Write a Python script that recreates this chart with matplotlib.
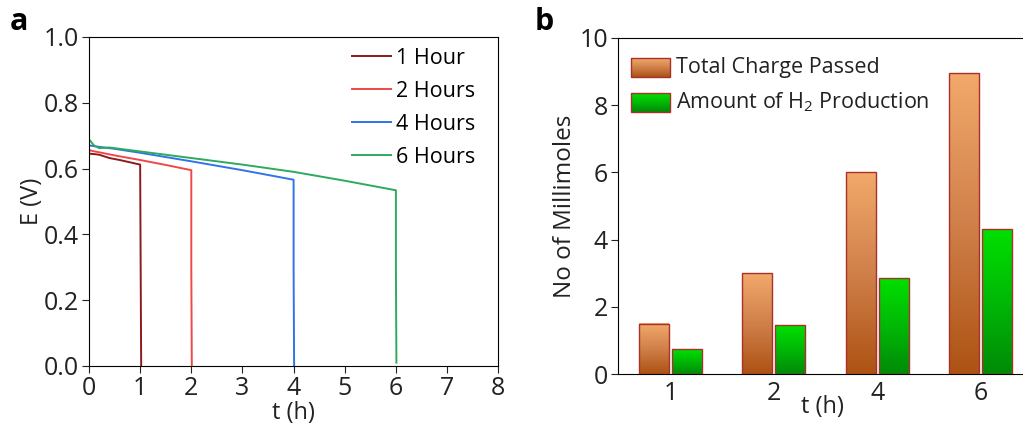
import numpy as np
import matplotlib
matplotlib.use('Agg')
import matplotlib.pyplot as plt
from matplotlib.colors import LinearSegmentedColormap

plt.rcParams['font.family'] = ['Open Sans', 'DejaVu Sans']
plt.rcParams['mathtext.default'] = 'regular'

# panel a: discharge curves
t_1h = [0, 0.01, 0.1, 0.2, 0.4, 0.6, 0.8, 1.0, 1.01, 1.02]
e_1h = [0.65, 0.645, 0.644, 0.642, 0.632, 0.626, 0.619, 0.612, 0.3, 0.0]
t_2h = [0, 0.02, 0.5, 1.0, 1.5, 2.0, 2.0, 2.01]
e_2h = [0.66, 0.655, 0.64, 0.626, 0.611, 0.595, 0.3, 0.0]
t_4h = [0, 0.02, 0.1, 0.5, 1.0, 2.0, 3.0, 4.0, 4.0, 4.01]
e_4h = [0.672, 0.67, 0.668, 0.66, 0.648, 0.622, 0.595, 0.566, 0.3, 0.0]
t_6h = [0, 0.0, 0.02, 0.1, 0.2, 0.4, 1.0, 2.0, 3.0, 4.0, 5.0, 6.0, 6.0, 6.01]
e_6h = [0.77, 0.69, 0.685, 0.67, 0.662, 0.664, 0.652, 0.632, 0.612, 0.59, 0.563, 0.534, 0.3, 0.01]
curve_labels = ['1 Hour', '2 Hours', '4 Hours', '6 Hours']
curve_colors = ['#8B1A1A', '#F04848', '#2F74E8', '#2EAA5E']

# panel b: millimoles
groups = ['1', '2', '4', '6']
charge = [1.5, 3.0, 6.0, 8.95]
h2 = [0.73, 1.45, 2.85, 4.3]

fig = plt.figure(figsize=(10.23, 4.25), dpi=100)
ax1 = fig.add_axes([0.087, 0.139, 0.400, 0.774])
ax2 = fig.add_axes([0.604, 0.120, 0.400, 0.791])

for t, e, lab, c in zip([t_1h, t_2h, t_4h, t_6h], [e_1h, e_2h, e_4h, e_6h], curve_labels, curve_colors):
    ax1.plot(t, e, color=c, lw=1.4, label=lab)
ax1.set_xlim(0, 8)
ax1.set_ylim(0, 1.0)
ax1.set_xticks(range(0, 9))
ax1.set_yticks([0, 0.2, 0.4, 0.6, 0.8, 1.0])
ax1.set_yticklabels(['0.0', '0.2', '0.4', '0.6', '0.8', '1.0'])
ax1.tick_params(labelsize=18, direction='out', length=5, colors='#222222', pad=2)
ax1.set_xlabel('t (h)', fontsize=17, labelpad=0, color='#222222')
ax1.set_ylabel('E (V)', fontsize=17, labelpad=0, color='#222222')
ax1.legend(loc='upper right', frameon=False, fontsize=15.5, handlelength=1.8,
           handletextpad=0.25, labelspacing=0.56, borderaxespad=0.1,
           bbox_to_anchor=(0.97, 1.0))

# gradient bars
orange_cm = LinearSegmentedColormap.from_list('or', ['#AD5213', '#D0804A', '#F2A96B'])
green_cm = LinearSegmentedColormap.from_list('gr', ['#008A08', '#00B806', '#00E000'])
grad = np.linspace(0, 1, 256).reshape(-1, 1)
x = np.arange(len(groups))
w = 0.29
gap = 0.015
for xi, v1, v2 in zip(x, charge, h2):
    for x0, v, cm in [(xi - gap - w, v1, orange_cm), (xi + gap, v2, green_cm)]:
        ax2.imshow(grad, cmap=cm, origin='lower', extent=[x0, x0 + w, 0, v], aspect='auto', zorder=2)
        ax2.add_patch(plt.Rectangle((x0, 0), w, v, fill=False, edgecolor='#A8322A', lw=1.0, zorder=3))
ax2.set_xlim(-0.51, 3.45)
ax2.set_ylim(0, 10)
ax2.set_xticks(x)
ax2.set_xticklabels(groups)
ax2.set_yticks([0, 2, 4, 6, 8, 10])
ax2.tick_params(axis='x', length=0, labelsize=18, pad=5, colors='#222222')
ax2.tick_params(axis='y', labelsize=18, direction='out', length=5, pad=2, colors='#222222')
ax2.spines['right'].set_visible(False)
ax2.set_xlabel('t (h)', fontsize=17, labelpad=-8, color='#222222')
ax2.set_ylabel('No of Millimoles', fontsize=17.5, labelpad=2, color='#222222')

# legend for panel b drawn with gradient boxes
leg_labels = ['Total Charge Passed', 'Amount of H$_2$ Production']
for i, (lab, cm) in enumerate(zip(leg_labels, [orange_cm, green_cm])):
    y0 = 0.883 - i * 0.103
    ax2.imshow(grad, cmap=cm, origin='lower', extent=[0.032, 0.128, y0, y0 + 0.056],
               transform=ax2.transAxes, aspect='auto', zorder=4)
    ax2.add_patch(plt.Rectangle((0.032, y0), 0.096, 0.056, fill=False, edgecolor='#A8322A',
                                lw=1.0, transform=ax2.transAxes, zorder=5))
    ax2.text(0.143, y0 + 0.028, lab, transform=ax2.transAxes, fontsize=15.5, va='center',
             color='#222222')

fig.text(0.010, 0.93, 'a', fontsize=22, fontweight='bold')
fig.text(0.523, 0.93, 'b', fontsize=22, fontweight='bold')

fig.savefig('out.png', dpi=100)
